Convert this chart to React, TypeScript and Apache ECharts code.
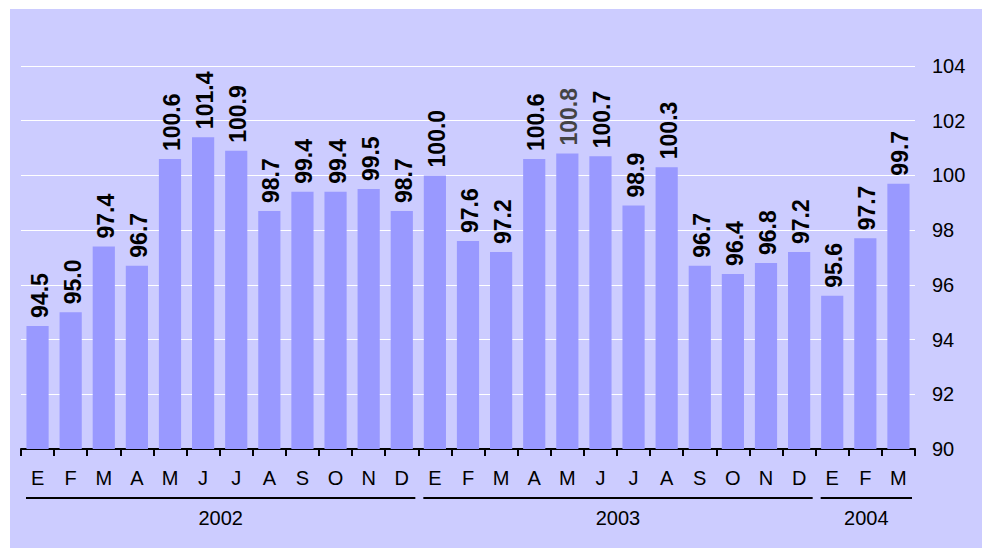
import React, { useEffect, useRef } from "react";
import * as echarts from "echarts";

const months = ["E","F","M","A","M","J","J","A","S","O","N","D","E","F","M","A","M","J","J","A","S","O","N","D","E","F","M"];
const values = [94.5,95.0,97.4,96.7,100.6,101.4,100.9,98.7,99.4,99.4,99.5,98.7,100.0,97.6,97.2,100.6,100.8,100.7,98.9,100.3,96.7,96.4,96.8,97.2,95.6,97.7,99.7];
const years = ["2002","2003","2004"];
const yearCounts = [12,12,3];
const grayLabelIndex = [16];

export default function App() {
  const ref = useRef<HTMLDivElement>(null);
  useEffect(() => {
    if (!ref.current) return;
    document.body.style.overflow = "hidden";
    const chart = echarts.init(ref.current, null, { renderer: "svg" });
    const font = "Liberation Sans, Arial, sans-serif";
    chart.setOption({
      animation: false,
      backgroundColor: "#CCCCFF",
      grid: { left: 11, right: 67, top: 57, bottom: 99, containLabel: false },
      xAxis: {
        type: "category",
        data: months,
        axisLine: { show: true, lineStyle: { color: "#000", width: 2 } },
        axisTick: { show: true, length: 7, lineStyle: { color: "#000", width: 2 } },
        axisLabel: { color: "#000", fontSize: 20, fontFamily: font, margin: 19, interval: 0 },
        splitLine: { show: false },
      },
      yAxis: {
        type: "value",
        position: "right",
        min: 90,
        max: 104,
        interval: 2,
        axisLine: { show: false },
        axisTick: { show: false },
        axisLabel: { color: "#000", fontSize: 20, fontFamily: font, margin: 17 },
        splitLine: { show: true, lineStyle: { color: "#FFFFFF", width: 1 } },
      },
      series: [
        {
          type: "bar",
          barCategoryGap: "33%",
          itemStyle: { color: "#9999FF" },
          data: values.map((v, i) =>
            grayLabelIndex.includes(i) ? { value: v, label: { color: "#444444" } } : v
          ),
          label: {
            show: true,
            position: "insideBottom",
            rotate: 90,
            align: "left",
            verticalAlign: "middle",
            offset: [0, 0],
            fontSize: 23,
            fontWeight: "bold",
            fontFamily: font,
            color: "#000",
            formatter: (p: any) => Number(p.value).toFixed(1),
          },
          labelLayout: (params: any) => {
            const r = params.rect;
            return {
              x: r.x + r.width / 2 + 2,
              y: r.y - 8,
              rotate: 90,
              align: "left",
              verticalAlign: "middle",
            };
          },
        },
      ],
    });

    const graphics: any[] = [];
    let start = 0;
    const bandW = (chart.convertToPixel({ xAxisIndex: 0 }, 1) as number) - (chart.convertToPixel({ xAxisIndex: 0 }, 0) as number);
    const axisY = chart.convertToPixel({ yAxisIndex: 0 }, 90) as number;
    years.forEach((yr, k) => {
      const end = start + yearCounts[k] - 1;
      const x0 = (chart.convertToPixel({ xAxisIndex: 0 }, start) as number) - bandW / 2 + 5;
      const x1 = (chart.convertToPixel({ xAxisIndex: 0 }, end) as number) + bandW / 2 - 3;
      graphics.push({
        type: "line",
        shape: { x1: x0, y1: axisY + 49, x2: x1, y2: axisY + 49 },
        style: { stroke: "#000", lineWidth: 2 },
      });
      graphics.push({
        type: "text",
        x: (x0 + x1) / 2,
        y: axisY + 69,
        style: { text: yr, fill: "#000", fontSize: 20, fontFamily: font, align: "center", verticalAlign: "middle" },
      });
      start = end + 1;
    });
    chart.setOption({ graphic: graphics });

    return () => chart.dispose();
  }, []);
  return (
    <div
      ref={ref}
      style={{ position: "fixed", left: 10, top: 9, width: 972, height: 539 }}
    />
  );
}
